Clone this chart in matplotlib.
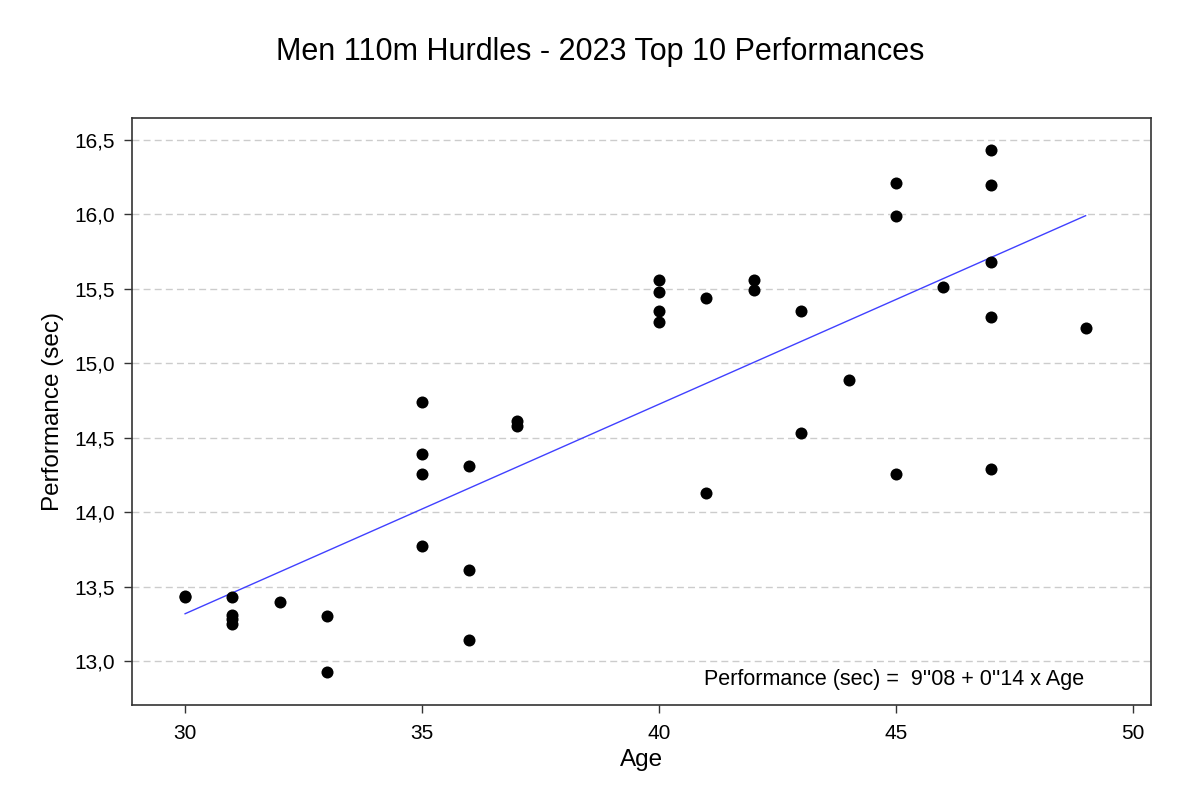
import numpy as np
import matplotlib
matplotlib.use("Agg")
import matplotlib.pyplot as plt
from matplotlib.ticker import FuncFormatter

plt.rcParams['font.family'] = ['Liberation Sans', 'DejaVu Sans']

title = "Men 110m Hurdles - 2023 Top 10 Performances"
ages = [30, 30,
        31, 31, 31, 31,
        32,
        33, 33,
        35, 35, 35, 35,
        36, 36, 36,
        37, 37,
        40, 40, 40, 40,
        41, 41,
        42, 42,
        43, 43,
        44,
        45, 45, 45,
        46,
        47, 47, 47, 47, 47,
        49]
perf = [13.44, 13.43,
        13.43, 13.31, 13.28, 13.25,
        13.40,
        13.30, 12.93,
        14.74, 14.39, 14.26, 13.77,
        14.31, 13.61, 13.14,
        14.61, 14.58,
        15.56, 15.48, 15.35, 15.28,
        15.44, 14.13,
        15.56, 15.49,
        15.35, 14.53,
        14.89,
        16.21, 15.99, 14.26,
        15.51,
        16.43, 16.20, 15.68, 15.31, 14.29,
        15.24]
x_ticks = [30, 35, 40, 45, 50]
y_ticks = [13.0, 13.5, 14.0, 14.5, 15.0, 15.5, 16.0, 16.5]
equation = "Performance (sec) =  9''08 + 0''14 x Age"

fig = plt.figure(figsize=(12, 7.98), dpi=100)
ax = fig.add_axes([132/1200, 1 - 705/798, (1151 - 132)/1200, (705 - 118)/798])

ax.scatter(ages, perf, s=75, color='black', zorder=3, linewidths=0)

slope, intercept = np.polyfit(ages, perf, 1)
xs = np.array([min(ages), max(ages)])
ax.plot(xs, intercept + slope * xs, color='#4040ff', lw=1.0, zorder=2)

ax.set_xlim(28.88, 50.38)
ax.set_ylim(12.705, 16.648)
ax.set_xticks(x_ticks)
ax.set_yticks(y_ticks)
ax.yaxis.set_major_formatter(FuncFormatter(lambda v, p: f"{v:.1f}".replace('.', ',')))
ax.tick_params(axis='both', labelsize=15, length=6, width=1, color='#333333', direction='out')
ax.tick_params(axis='x', pad=8)
ax.tick_params(axis='y', pad=6)
ax.grid(axis='y', linestyle=(0, (5, 3)), color='#cccccc', lw=1)
ax.set_axisbelow(True)
for sp in ax.spines.values():
    sp.set_color('#333333')
    sp.set_linewidth(1.2)

ax.set_xlabel("Age", fontsize=17.5, labelpad=4)
ax.set_ylabel("Performance (sec)", fontsize=17.5, labelpad=8)
fig.text(0.5, 1 - 52/798, title, ha='center', va='center', fontsize=22)
ax.text(0.934, 0.044, equation, transform=ax.transAxes, ha='right', va='center', fontsize=15.5)

fig.savefig("out.png", dpi=100, facecolor='white')
